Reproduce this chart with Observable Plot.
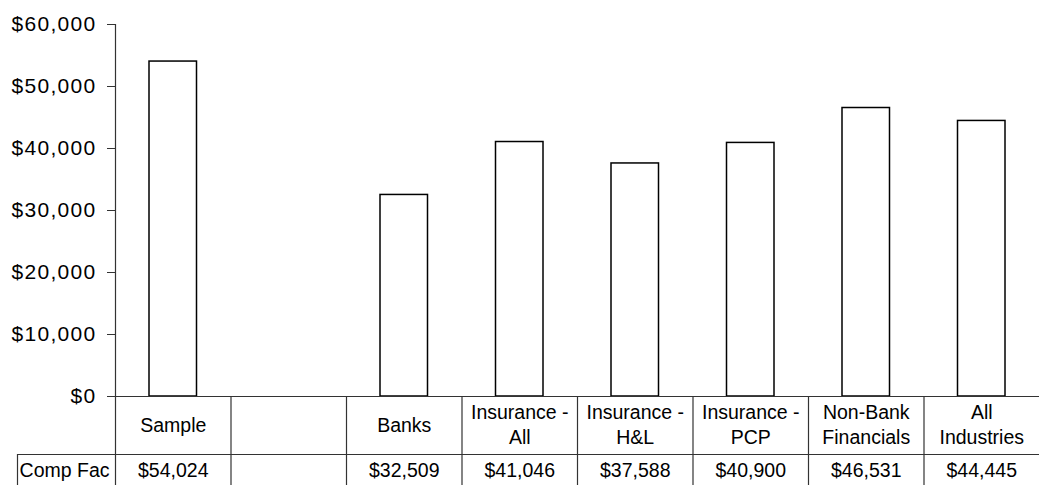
<!DOCTYPE html>
<html>
<head>
<meta charset="utf-8">
<script src="https://cdn.jsdelivr.net/npm/d3@7"></script>
<script src="https://cdn.jsdelivr.net/npm/@observablehq/plot@0.6"></script>
<style>
  html, body { margin: 0; padding: 0; background: #fff; }
  #chart svg { display: block; }
  #chart svg [aria-label="y-axis tick label"] text { letter-spacing: 1.3px; }
</style>
</head>
<body>
<div id="chart"></div>
<script>
// ---- data ----
const categories = ["Sample", "", "Banks", "Insurance - All", "Insurance - H&L", "Insurance - PCP", "Non-Bank Financials", "All Industries"];
const categoryLabels = ["Sample", "", "Banks", "Insurance -\nAll", "Insurance -\nH&L", "Insurance -\nPCP", "Non-Bank\nFinancials", "All\nIndustries"];
const compFac = [54024, null, 32509, 41046, 37588, 40900, 46531, 44445];
const yTicks = [0, 10000, 20000, 30000, 40000, 50000, 60000];
const rowLabel = "Comp Fac";

// ---- layout ----
const W = 1039, H = 485;
const mL = 115, mR = 0, mT = 24, mB = 89;
const yMax = 60000;
const plotH = H - mT - mB;
const bw = (W - mL - mR) / categories.length;
const pxToY = px => (H - mB - px) / plotH * yMax; // pixel row -> data value
const yBottom = pxToY(H + 2);
const yRowLine = pxToY(454);

const money = v => "$" + d3.format(",")(v);
const rows = categories.map((c, i) => ({cat: c, label: categoryLabels[i], value: compFac[i]}));

const chart = Plot.plot({
  width: W,
  height: H,
  marginLeft: mL,
  marginRight: mR,
  marginTop: mT,
  marginBottom: mB,
  style: {fontFamily: "'Liberation Sans', Arial, sans-serif", fontSize: "19.5px", color: "#000", background: "#fff"},
  x: {domain: categories, padding: 0, round: false, axis: null},
  y: {domain: [0, yMax], axis: null},
  marks: [
    // y axis
    Plot.axisY(yTicks, {tickSize: 8, tickPadding: 11, tickFormat: money, fontSize: 21, label: null, stroke: "#333"}),
    // bars
    Plot.barY(rows.filter(d => d.value != null), {x: "cat", y: "value", fill: "white", stroke: "#000", strokeWidth: 1.5, insetLeft: 34, insetRight: 34}),
    // baseline
    Plot.ruleY([0], {stroke: "#333", strokeWidth: 1.2}),
    // vertical table / axis lines
    Plot.ruleX(rows, {x: "cat", dx: -bw / 2, y1: yBottom, y2: (d, i) => i === 0 ? yMax : 0, stroke: "#333", strokeWidth: 1.2}),
    // row separator line
    Plot.ruleY([yRowLine], {stroke: "#333", strokeWidth: 1.2}),
    Plot.ruleY([yRowLine], {x1: () => categories[0], x2: () => categories[0], dx: -98, stroke: "#333", strokeWidth: 1.2}),
    Plot.ruleX([categories[0]], {dx: -bw / 2 - 98, y1: yRowLine, y2: yBottom, stroke: "#333", strokeWidth: 1.2}),
    // category header labels
    Plot.text(rows, {x: "cat", y: () => 0, text: "label", dy: 27, lineHeight: 1.28, fontSize: 19.5, fill: "#000"}),
    // values row
    Plot.text(rows.filter(d => d.value != null), {x: "cat", y: () => 0, text: d => money(d.value), dy: 74, fontSize: 19.5, fill: "#000"}),
    // row label
    Plot.text([rowLabel], {x: () => categories[0], y: () => 0, text: d => d, dx: -bw / 2 - 6, dy: 74, textAnchor: "end", fontSize: 19.5, fill: "#000"})
  ]
});
document.getElementById("chart").appendChild(chart);
</script>
</body>
</html>
